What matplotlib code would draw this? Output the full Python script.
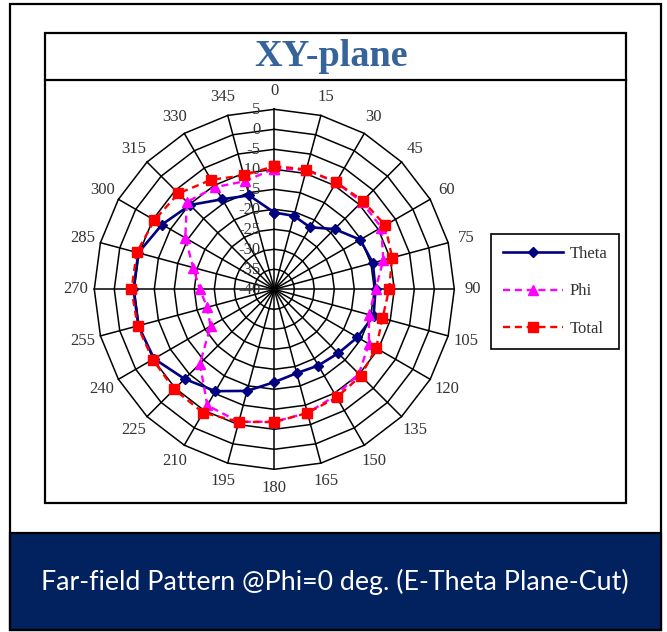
import numpy as np
import matplotlib
matplotlib.use("Agg")
import matplotlib.pyplot as plt
from matplotlib.patches import Rectangle
from matplotlib.lines import Line2D
from matplotlib.transforms import offset_copy

# angle (deg) of each radar spoke
angles_deg = list(range(0, 360, 15))

# gain values in dB
theta_db = [-20.8, -21.0, -22.1, -18.7, -15.2, -14.5, -14.7, -14.3, -16.0, -17.4, -18.0, -18.3,
            -16.8, -13.7, -10.6, -8.3, -5.3, -4.8, -4.8, -4.8, -7.6, -10.2, -14.0, -15.7]
phi_db = [-9.8, -9.1, -9.1, -9.1, -9.1, -11.8, -14.7, -15.5, -12.7, -10.1, -9.3, -8.0,
          -6.9, -5.7, -6.5, -13.7, -21.6, -22.6, -21.4, -19.0, -14.3, -9.1, -10.5, -12.0]
total_db = [-9.2, -9.0, -9.1, -8.7, -8.0, -9.5, -11.3, -12.0, -10.6, -9.4, -8.8, -8.0,
            -6.8, -5.7, -4.4, -4.6, -4.9, -4.6, -4.3, -4.4, -5.4, -6.1, -8.4, -10.5]

r_ticks = list(range(-40, 6, 5))
series_names = ["Theta", "Phi", "Total"]

W, H = 667, 632
fig = plt.figure(figsize=(W / 100, H / 100), dpi=100)


def fx(px):
    return px / W


def fy(py):
    return 1 - py / H


def box(x0, y0, x1, y1, **kw):
    fig.add_artist(Rectangle((fx(x0), fy(y1)), fx(x1 - x0), (y1 - y0) / H,
                             transform=fig.transFigure, **kw))


# outer frame, bottom banner, inner chart box
box(10, 4, 661, 630, fill=False, edgecolor="black", lw=1.6)
box(10, 533, 661, 630, facecolor="#02215F", edgecolor="black", lw=1.6)
box(45, 33, 626, 503, fill=False, edgecolor="black", lw=1.6)
fig.add_artist(Line2D([fx(45), fx(626)], [fy(80), fy(80)], transform=fig.transFigure,
                      color="black", lw=1.6))

fig.text(fx(331), fy(57), "XY-plane", family="Liberation Serif", fontweight="bold",
         fontsize=27.5, color="#35639A", ha="center", va="center")
fig.text(fx(335), fy(582), "Far-field Pattern @Phi=0 deg. (E-Theta Plane-Cut)",
         family="Lato", fontsize=19.3, color="white", ha="center", va="center")

# radar plot
cx, cy, R = 274.3, 289.3, 180
ax = fig.add_axes([fx(cx - R), fy(cy + R), 2 * R / W, 2 * R / H], projection="polar")
ax.set_theta_zero_location("N")
ax.set_theta_direction(-1)
ax.set_ylim(-40, 5)
ax.grid(False)
ax.spines["polar"].set_visible(False)
ax.patch.set_alpha(0)
ax.set_yticks([])

ang = np.deg2rad(angles_deg)
ang_closed = np.r_[ang, 2 * np.pi]

for lev in r_ticks[1:]:
    ax.plot(ang_closed, [lev] * len(ang_closed), color="black", lw=1.1, clip_on=False, zorder=1)
for a in ang:
    ax.plot([a, a], [-40, 5], color="black", lw=1.1, clip_on=False, zorder=1)

ax.set_xticks(ang)
ax.set_xticklabels([str(a) for a in angles_deg], family="Liberation Serif", fontsize=12,
                   color="#333333")
ax.tick_params(axis="x", pad=6.5, length=0)

lab_tr = offset_copy(ax.transData, fig=fig, x=-14, y=-1, units="dots")
for v in r_ticks:
    ax.text(0, v, str(v), transform=lab_tr, ha="right", va="center",
            family="Liberation Serif", fontsize=12, color="#333333", zorder=2)


def closed(vals):
    return list(vals) + [vals[0]]


h_theta, = ax.plot(ang_closed, closed(theta_db), color="#000080", lw=1.9, marker="D",
                   markersize=5.5, label=series_names[0], zorder=3, clip_on=False)
h_phi, = ax.plot(ang_closed, closed(phi_db), color="#FF00FF", lw=1.7, ls=(0, (3, 2)),
                 marker="^", markersize=7, label=series_names[1], zorder=4, clip_on=False)
h_total, = ax.plot(ang_closed, closed(total_db), color="#FF0000", lw=1.7, ls=(0, (3, 2)),
                   marker="s", markersize=7.5, label=series_names[2], zorder=5, clip_on=False)

leg = fig.legend(handles=[h_theta, h_phi, h_total], loc="upper left",
                 bbox_to_anchor=(fx(491), fy(234)), prop={"family": "Liberation Serif", "size": 12},
                 fancybox=False, edgecolor="black", framealpha=1, borderpad=0.7,
                 labelspacing=1.3, handlelength=3.6, handletextpad=0.4, borderaxespad=0)
leg.get_frame().set_linewidth(1.2)
for t in leg.get_texts():
    t.set_color("#333333")

fig.savefig("out.png", dpi=100)
